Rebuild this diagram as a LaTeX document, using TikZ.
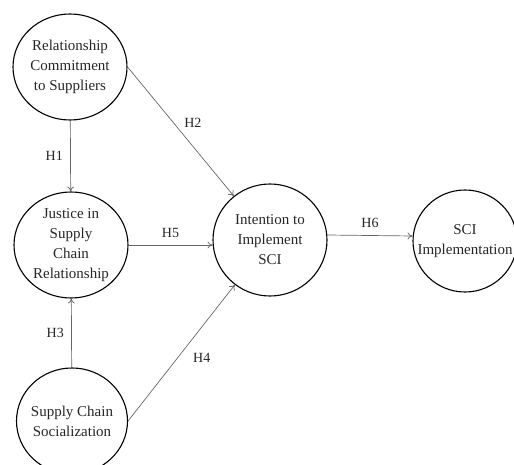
\documentclass[tikz,border=0pt]{standalone}
\usepackage{fontspec}
\setmainfont{Liberation Serif}
\usetikzlibrary{shapes.geometric,arrows.meta}

\begin{document}
\begin{tikzpicture}[x=1pt,y=-1pt,
    construct/.style={shape=ellipse,draw,line width=1.1pt,align=center,inner sep=-14pt,
        font=\fontsize{15}{20}\selectfont,text=black!85},
    path/.style={draw=black!60,line width=0.7pt,-{To[length=5pt,width=7pt]}},
    hyp/.style={font=\fontsize{14}{16}\selectfont,text=black!85}]
    \useasboundingbox (0,0) rectangle (514,465);
    \node[construct,minimum width=114pt,minimum height=106pt] (commit) at (70,67) {Relationship\\Commitment\\to Suppliers};
    \node[construct,minimum width=114pt,minimum height=106pt] (justice) at (71,245) {Justice in\\Supply\\Chain\\Relationship};
    \node[construct,minimum width=111pt,minimum height=106pt] (social) at (72,421) {Supply Chain\\Socialization};
    \node[construct,minimum width=114pt,minimum height=112pt] (intent) at (270,240) {Intention to\\Implement\\SCI};
    \node[construct,minimum width=104pt,minimum height=102pt] (sci) at (465,241) {SCI\\Implementation};
    \path[path] (commit) -- (justice) node[hyp,midway,left=4pt] {H1};
    \path[path] (commit.east) -- (intent) node[hyp,midway,above right=0pt] {H2};
    \path[path] (social) -- (justice) node[hyp,midway,left=4pt] {H3};
    \path[path] (social.east) -- (intent) node[hyp,midway,right=8pt,yshift=-5pt] {H4};
    \path[path] (justice.east|-intent.west) ++(0,5) coordinate (j5) (j5) -- (j5-|intent.west) node[hyp,midway,above=4pt] {H5};
    \path[path] ([yshift=5pt]intent.east) -- ([yshift=5pt]sci.west) node[hyp,midway,above=4pt] {H6};
\end{tikzpicture}
\end{document}
